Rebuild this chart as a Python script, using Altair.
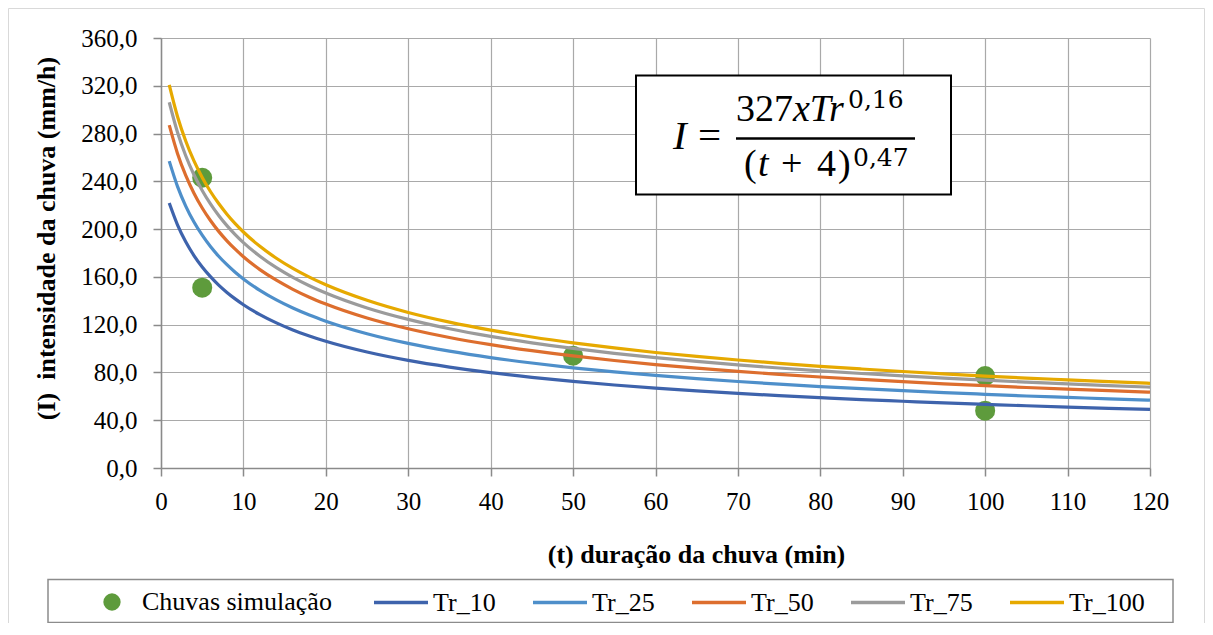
import altair as alt
import pandas as pd

# ---------------- data ----------------
t_min = [1, 2, 3, 4, 5, 6, 7, 8, 9, 10, 12, 14, 16, 18, 20, 25, 30, 35, 40, 45,
         50, 55, 60, 65, 70, 75, 80, 85, 90, 95, 100, 105, 110, 115, 120]
tr_10 = [221.8, 203.6, 189.4, 177.9, 168.3, 160.2, 153.1, 147.0, 141.6, 136.7,
         128.4, 121.5, 115.6, 110.6, 106.1, 97.1, 90.1, 84.5, 79.8, 75.9,
         72.5, 69.5, 66.9, 64.6, 62.5, 60.6, 58.9, 57.3, 55.9, 54.5,
         53.3, 52.1, 51.0, 50.0, 49.0]
tr_25 = [256.9, 235.8, 219.3, 205.9, 194.9, 185.4, 177.3, 170.2, 163.9, 158.3,
         148.7, 140.7, 133.9, 128.0, 122.9, 112.4, 104.3, 97.8, 92.4, 87.9,
         83.9, 80.5, 77.5, 74.8, 72.4, 70.2, 68.2, 66.4, 64.7, 63.1,
         61.7, 60.3, 59.1, 57.9, 56.8]
tr_50 = [287.0, 263.4, 245.0, 230.1, 217.7, 207.2, 198.1, 190.2, 183.2, 176.9,
         166.1, 157.2, 149.6, 143.0, 137.3, 125.6, 116.6, 109.3, 103.3, 98.2,
         93.8, 90.0, 86.6, 83.6, 80.9, 78.4, 76.2, 74.2, 72.3, 70.5,
         68.9, 67.4, 66.0, 64.7, 63.5]
tr_75 = [306.2, 281.1, 261.4, 245.5, 232.3, 221.1, 211.4, 202.9, 195.4, 188.7,
         177.3, 167.7, 159.6, 152.6, 146.5, 134.0, 124.4, 116.6, 110.2, 104.8,
         100.1, 96.0, 92.4, 89.2, 86.3, 83.7, 81.3, 79.1, 77.1, 75.3,
         73.5, 71.9, 70.4, 69.0, 67.7]
tr_100 = [320.7, 294.3, 273.8, 257.1, 243.3, 231.5, 221.4, 212.5, 204.6, 197.6,
          185.6, 175.6, 167.1, 159.8, 153.4, 140.4, 130.2, 122.1, 115.4, 109.7,
          104.8, 100.5, 96.7, 93.4, 90.4, 87.6, 85.1, 82.9, 80.8, 78.8,
          77.0, 75.3, 73.8, 72.3, 70.9]
series_names = ["Tr_10", "Tr_25", "Tr_50", "Tr_75", "Tr_100"]
series_colors = ["#3E63AC", "#4E8FCA", "#DD6E2E", "#9B9B9B", "#E6A900"]

sim_label = "Chuvas simulação"
sim_color = "#5E9B3C"
sim_t = [5, 5, 50, 100, 100]
sim_i = [243.0, 151.0, 94.0, 77.0, 48.0]

x_ticks = list(range(0, 121, 10))
y_ticks = list(range(0, 361, 40))

rows = []
for name, vals in zip(series_names, [tr_10, tr_25, tr_50, tr_75, tr_100]):
    for t, v in zip(t_min, vals):
        rows.append({"t": t, "I": v, "serie": name})
lines_df = pd.DataFrame(rows)
sim_df = pd.DataFrame({"t": sim_t, "I": sim_i, "serie": [sim_label] * len(sim_t)})
one = pd.DataFrame({"k": [0]})

# ---------------- styling ----------------
FONT = "Liberation Serif"
W, H = 989, 430
AX = "#8a8a8a"
GRID = "#a9a9a9"

common_axis = dict(labelFont=FONT, labelFontSize=25, labelColor="#000",
                   tickSize=8, tickColor=AX, tickWidth=1.5,
                   domainColor=AX, domainWidth=1.5,
                   gridColor=GRID, gridWidth=1.2,
                   titleFont=FONT, titleFontSize=26, titleFontWeight="bold",
                   titleColor="#000", titleAlign="center", titleBaseline="middle")

x_axis = alt.Axis(values=x_ticks, title="(t) duração da chuva (min)",
                  labelPadding=13, labelFlush=False,
                  titleX=535, titleY=86, titleAngle=0, **common_axis)
y_axis = alt.Axis(values=y_ticks, title="(I)\u00a0 intensidade da chuva (mm/h)",
                  labelExpr="replace(format(datum.value, '.1f'), '.', ',')",
                  labelPadding=16,
                  titleX=-115, titleY=200, titleAngle=270, **common_axis)

x_enc = alt.X("t:Q", scale=alt.Scale(domain=[0, 120], nice=False), axis=x_axis)
y_enc = alt.Y("I:Q", scale=alt.Scale(domain=[0, 360], nice=False), axis=y_axis)

legend_common = dict(orient="none", title=None, padding=0,
                     labelFont=FONT, labelFontSize=26, labelColor="#000",
                     labelLimit=400, direction="horizontal")

points = alt.Chart(sim_df).mark_circle(size=400, opacity=1).encode(
    x=x_enc, y=y_enc,
    fill=alt.Fill("serie:N",
                  scale=alt.Scale(domain=[sim_label], range=[sim_color]),
                  legend=alt.Legend(legendX=-62, legendY=551,
                                    symbolType="circle", symbolSize=300,
                                    symbolStrokeWidth=0, labelOffset=17,
                                    **legend_common)),
)

lines = alt.Chart(lines_df).mark_line(strokeWidth=3.2, interpolate="monotone").encode(
    x=x_enc, y=y_enc,
    stroke=alt.Stroke("serie:N",
                      scale=alt.Scale(domain=series_names, range=series_colors),
                      legend=alt.Legend(legendX=211, legendY=535.5,
                                        symbolType="stroke", symbolSize=2916,
                                        symbolStrokeWidth=3.5, labelOffset=3,
                                        columns=5, columnPadding=17,
                                        gridAlign="all", **legend_common)),
)

# ---------------- formula annotation ----------------
box = alt.Chart(one).mark_rect(fill="white", stroke="#000", strokeWidth=2).encode(
    x=alt.value(475), x2=alt.value(790), y=alt.value(37.5), y2=alt.value(156.5))


def txt(s, x, y, size, italic=False, font=FONT):
    return alt.Chart(one).mark_text(
        text=s, font=font, fontSize=size,
        fontStyle="italic" if italic else "normal",
        align="left", baseline="alphabetic", color="#000",
    ).encode(x=alt.value(x), y=alt.value(y))


formula = [
    txt("I", 512, 110.5, 41, italic=True),
    txt("=", 537, 110.5, 41),
    txt("327", 575, 82.5, 38),
    txt("xTr", 632, 82.5, 38, italic=True),
    txt("0,16", 687, 69.5, 25, font="DejaVu Serif"),
    txt("(", 583, 137.5, 38),
    txt("t", 597, 137.5, 38, italic=True),
    txt("+", 620, 137.5, 38),
    txt("4", 656, 137.5, 38),
    txt(")", 677, 137.5, 38),
    txt("0,47", 692, 127.5, 25, font="DejaVu Serif"),
]
frac = alt.Chart(one).mark_rule(strokeWidth=2.5, color="#000").encode(
    x=alt.value(575), x2=alt.value(754), y=alt.value(100.5))

# ---------------- legend frame & outer frame ----------------
legend_box = alt.Chart(one).mark_rect(fillOpacity=0, stroke="#8c8c8c", strokeWidth=1.5).encode(
    x=alt.value(-113), x2=alt.value(1012), y=alt.value(541.5), y2=alt.value(584.5))

BORDER = "#d9d9d9"
border_left = alt.Chart(one).mark_rule(color=BORDER, strokeWidth=1).encode(
    x=alt.value(-152.5), y=alt.value(-29.5), y2=alt.value(585))
border_right = alt.Chart(one).mark_rule(color=BORDER, strokeWidth=1).encode(
    x=alt.value(1043.5), y=alt.value(-29.5), y2=alt.value(585))
border_top = alt.Chart(one).mark_rule(color=BORDER, strokeWidth=1).encode(
    x=alt.value(-152.5), x2=alt.value(1043.5), y=alt.value(-29.5))

chart = alt.layer(
    points, lines, box, frac, *formula, legend_box,
    border_left, border_right, border_top,
).properties(
    width=W, height=H,
    autosize=alt.AutoSizeParams(type="none"),
    padding={"left": 153, "top": 30, "right": 55, "bottom": 155},
).configure_view(strokeWidth=0)

chart.save("out.html", embed_options={"renderer": "svg", "actions": False})
